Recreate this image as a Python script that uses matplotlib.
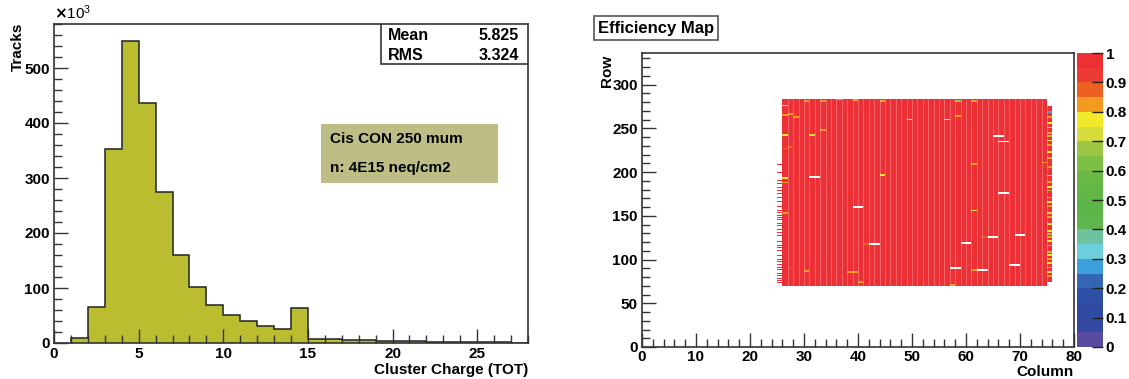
import numpy as np
import matplotlib
matplotlib.use("Agg")
import matplotlib.pyplot as plt
from matplotlib.colors import ListedColormap, BoundaryNorm

plt.rcParams["font.family"] = ["Liberation Sans", "DejaVu Sans"]
plt.rcParams["font.weight"] = "bold"

# ---------------- cluster charge histogram (x 10^3 tracks) ----------------
tot_edges = list(range(1, 29))
tot_counts = [10, 65, 352, 550, 437, 274, 160, 101, 70, 51, 40, 31, 26, 63,
              8, 7, 6, 5, 4, 4, 3, 2.5, 2, 1.5, 1.2, 1.0, 0.8]
stat_mean = "5.825"
stat_rms = "3.324"
sample_lines = ["Cis CON 250 mum", "n: 4E15 neq/cm2"]

# ---------------- efficiency map (FE-I4: 80 columns x 336 rows) ----------------
n_cols, n_rows = 80, 336
core_cols = (26, 74)          # fully covered columns
core_rows = (70, 283)         # covered row span
edge_right_col = 75
edge_right_rows = (74, 274)
edge_left_col = 25
edge_left_rows = [73, 76, 78, 81, 84, 88, 90, 94, 97, 100, 104, 107, 110, 113,
                  116, 120, 123, 127, 130, 134, 138, 141, 145, 148, 150, 153,
                  156, 160, 163, 166, 170, 175, 178, 182, 186, 190, 195, 199,
                  203, 208]
# cells without hits: (first column, row)
dead_cells = [(31, 193), (39, 159), (42, 117), (65, 240), (66, 234), (66, 175),
              (59, 118), (64, 125), (69, 127), (57, 89), (62, 87), (68, 93)]
# cells with reduced efficiency: (column, row, efficiency)
weak_cells = [(49, 259, 0.78), (56, 259, 0.77), (58, 263, 0.83), (33, 247, 0.82),
              (31, 241, 0.72), (44, 196, 0.78), (61, 208, 0.84), (61, 155, 0.71),
              (38, 85, 0.84), (39, 85, 0.84), (30, 86, 0.83), (61, 87, 0.84),
              (40, 73, 0.84), (57, 70, 0.84), (36, 282, 0.68), (58, 280, 0.68),
              (44, 280, 0.84), (39, 281, 0.84), (33, 280, 0.84), (30, 280, 0.84),
              (61, 280, 0.84), (74, 210, 0.84), (41, 117, 0.86), (63, 125, 0.86),
              (26, 275, 0.78), (26, 264, 0.84), (26, 241, 0.78), (26, 226, 0.86),
              (26, 192, 0.78), (26, 187, 0.84), (26, 152, 0.84), (27, 265, 0.84),
              (27, 228, 0.86), (28, 262, 0.83), (27, 90, 0.86)]
edge_right_weak = [(268, 0.25), (262, 0.84), (255, 0.78), (250, 0.72), (244, 0.84),
                   (240, 0.66), (235, 0.78), (230, 0.84), (222, 0.78), (215, 0.84),
                   (205, 0.84), (195, 0.72), (188, 0.84), (182, 0.78), (178, 0.66),
                   (170, 0.84), (165, 0.78), (160, 0.84), (152, 0.72), (148, 0.84),
                   (140, 0.78), (132, 0.78), (128, 0.66), (125, 0.84), (120, 0.77),
                   (115, 0.84), (108, 0.66), (104, 0.78), (100, 0.84), (95, 0.78),
                   (90, 0.84), (85, 0.72), (80, 0.84)]

palette = ["#574ba0", "#3448a2", "#2f4aa2", "#2f4fa5", "#3466b4", "#3ca0dc",
           "#6dcfdb", "#6dc3a0", "#60b54f", "#5db448", "#62b647", "#6ab947",
           "#7dbe45", "#9cc744", "#d5dc3c", "#f2e92a", "#f39a20", "#ee5f24",
           "#ec3a34", "#ec3036"]
cmap = ListedColormap(palette)
norm = BoundaryNorm(np.linspace(0, 1, len(palette) + 1), cmap.N)

eff = np.full((n_rows, n_cols), np.nan)
eff[core_rows[0]:core_rows[1] + 1, core_cols[0]:core_cols[1] + 1] = 1.0
eff[edge_right_rows[0]:edge_right_rows[1] + 1, edge_right_col] = 1.0
for r in edge_left_rows:
    eff[r, edge_left_col] = 1.0
for c, r in dead_cells:
    eff[r:r + 2, c:c + 2] = np.nan
for c, r, v in weak_cells:
    eff[r:r + 2, c] = v
for r, v in edge_right_weak:
    eff[r:r + 2, edge_right_col] = v

# ---------------- figure ----------------
W, H = 1129, 379
fig = plt.figure(figsize=(W / 100, H / 100), dpi=100)
frame_col = "#333333"
tick_kw = dict(direction="in", color=frame_col, width=1.0, labelsize=11,
               labelcolor="black")


def px(x0, y0, x1, y1):
    return [x0 / W, 1 - y1 / H, (x1 - x0) / W, (y1 - y0) / H]


# left panel
ax1 = fig.add_axes(px(54, 24, 528, 343))
ax1.stairs(tot_counts, tot_edges, fill=True, color="#babd2f", baseline=0)
ax1.stairs(tot_counts, tot_edges, fill=False, color="#222222", linewidth=1.1,
           baseline=0)
ax1.set_xlim(0, 28)
ax1.set_ylim(0, 580)
ax1.set_xticks([0, 5, 10, 15, 20, 25])
ax1.set_xticks(np.arange(0, 28.01, 1), minor=True)
ax1.set_yticks(np.arange(0, 501, 100))
ax1.set_yticks(np.arange(0, 581, 20), minor=True)
ax1.tick_params(axis="both", which="major", length=10, pad=3, **tick_kw)
ax1.tick_params(axis="both", which="minor", length=5.5, direction="in",
                color=frame_col, width=1.0)
ax1.tick_params(top=False, right=False, which="both")
for s in ax1.spines.values():
    s.set_color(frame_col)
    s.set_linewidth(1.2)
ax1.text(0, 1.005, r"$\times\mathregular{10^{3}}$", transform=ax1.transAxes,
         ha="left", va="bottom", fontsize=11, fontweight="normal")
fig.text(18 / W, 1 - 23 / H, "Tracks", rotation=90, ha="center", va="top",
         fontsize=11)
fig.text(528 / W, 1 - 370 / H, "Cluster Charge (TOT)", ha="right",
         va="center", fontsize=11)

# statistics box
ax1.add_patch(plt.Rectangle((381 / W, 1 - 64 / H), (528 - 381) / W, 40 / H,
                            transform=fig.transFigure, facecolor="white",
                            edgecolor=frame_col, linewidth=1.2, zorder=5))
fig.text(388 / W, 1 - 35 / H, "Mean", fontsize=11.5, va="center", zorder=6)
fig.text(519 / W, 1 - 35 / H, stat_mean, fontsize=11.5, va="center",
         ha="right", zorder=6)
fig.text(388 / W, 1 - 55 / H, "RMS", fontsize=11.5, va="center", zorder=6)
fig.text(519 / W, 1 - 55 / H, stat_rms, fontsize=11.5, va="center",
         ha="right", zorder=6)

# sample description box
ax1.add_patch(plt.Rectangle((321 / W, 1 - 183 / H), (498 - 321) / W, 59 / H,
                            transform=fig.transFigure, facecolor="#bdbd85",
                            edgecolor="none", zorder=5))
fig.text(330 / W, 1 - 139 / H, sample_lines[0], fontsize=11, va="center",
         zorder=6)
fig.text(330 / W, 1 - 168 / H, sample_lines[1], fontsize=11, va="center",
         zorder=6)

# right panel
ax2 = fig.add_axes(px(642, 53, 1074, 347))
mesh = ax2.pcolormesh(np.arange(n_cols + 1), np.arange(n_rows + 1), eff,
                      cmap=cmap, norm=norm, rasterized=True)
col_lines = np.arange(core_cols[0] + 1, edge_right_col + 1)
ax2.vlines(col_lines, core_rows[0], core_rows[1] + 1, colors="white",
           linewidth=0.6, alpha=0.3)
ax2.set_xlim(0, n_cols)
ax2.set_ylim(0, n_rows)
ax2.set_xticks(np.arange(0, 81, 10))
ax2.set_xticks(np.arange(0, 81, 2), minor=True)
ax2.set_yticks(np.arange(0, 301, 50))
ax2.set_yticks(np.arange(0, 336, 10), minor=True)
ax2.tick_params(axis="both", which="major", length=10, pad=3, **tick_kw)
ax2.tick_params(axis="x", which="major", pad=2)
ax2.tick_params(axis="both", which="minor", length=5.5, direction="in",
                color=frame_col, width=1.0)
ax2.tick_params(top=False, right=False, which="both")
for s in ax2.spines.values():
    s.set_color(frame_col)
    s.set_linewidth(1.2)
fig.text(607 / W, 1 - 55 / H, "Row", rotation=90, ha="center", va="top",
         fontsize=11)
fig.text(1074 / W, 1 - 372 / H, "Column", ha="right", va="center",
         fontsize=11)
fig.text(598 / W, 1 - 28 / H, "Efficiency Map", ha="left", va="center",
         fontsize=12,
         bbox=dict(boxstyle="square,pad=0.25", facecolor="white",
                   edgecolor="#555555", linewidth=1.2))

# colour scale
cax = fig.add_axes(px(1077, 53, 1103, 347))
cb = fig.colorbar(mesh, cax=cax, ticks=np.round(np.arange(0, 1.01, 0.1), 1))
cb.outline.set_visible(False)
cb.ax.set_yticklabels(["0", "0.1", "0.2", "0.3", "0.4", "0.5", "0.6", "0.7",
                       "0.8", "0.9", "1"])
cb.ax.tick_params(direction="in", length=8, width=1.0, color="#222222",
                  labelsize=11, pad=2)
cb.ax.minorticks_off()

fig.savefig("out.png", dpi=100)
